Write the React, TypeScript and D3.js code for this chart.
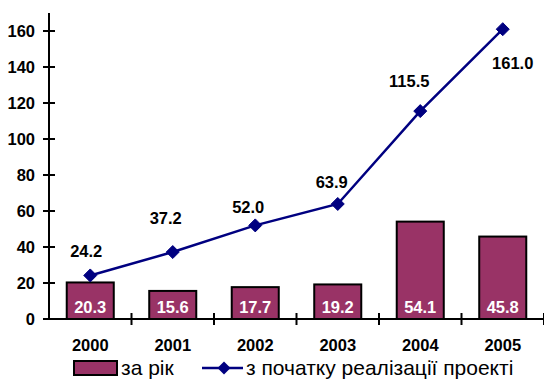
import React from 'react';
import * as d3 from 'd3';

const years = ['2000', '2001', '2002', '2003', '2004', '2005'];
const perYear = [20.3, 15.6, 17.7, 19.2, 54.1, 45.8];
const cumulative = [24.2, 37.2, 52.0, 63.9, 115.5, 161.0];
const yTicks = [0, 20, 40, 60, 80, 100, 120, 140, 160];
const legendBar = 'за рік';
const legendLine = 'з початку реалізації проекті';

// hand-placed data label offsets for the line (as in the original)
const lineLabelNudge: [number, number][] = [
  [-4, -24], [-7, -34], [-7, -18], [-6, -22], [-11, -30], [10, 34],
];

const W = 544;
const H = 379;
const M = { left: 49, right: 0, top: 13, bottom: 60 };
const BAR = '#993366';
const LINE = '#000080';
const FONT = 'Arial, "Liberation Sans", sans-serif';

const diamond = (cx: number, cy: number, r: number) =>
  `M${cx},${cy - r}L${cx + r},${cy}L${cx},${cy + r}L${cx - r},${cy}Z`;

const App: React.FC = () => {
  const x = d3.scaleBand<string>().domain(years).range([M.left, W - M.right]);
  const y = d3.scaleLinear().domain([0, 170]).range([H - M.bottom, M.top]);
  const y0 = y(0);
  const bw = x.bandwidth() * 0.57;
  const cx = (d: string) => (x(d) ?? 0) + x.bandwidth() / 2;

  const line = d3.line<number>()
    .x((_, i) => cx(years[i]))
    .y(d => y(d));

  return (
    <svg width={W} height={H} style={{ position: 'absolute', left: 0, top: 0, background: '#fff' }}
      fontFamily={FONT}>
      {/* bars */}
      {perYear.map((v, i) => (
        <rect key={years[i]} x={cx(years[i]) - bw / 2} y={y(v)} width={bw} height={y0 - y(v)}
          fill={BAR} stroke="#000" strokeWidth={2} />
      ))}
      {perYear.map((v, i) => (
        <text key={'bl' + i} x={cx(years[i])} y={y0 - 6} textAnchor="middle" fill="#fff"
          fontWeight="bold" fontSize={16.5}>{v.toFixed(1)}</text>
      ))}

      {/* y axis */}
      <line x1={M.left} x2={M.left} y1={M.top} y2={y0} stroke="#000" strokeWidth={2} />
      {yTicks.map(t => (
        <g key={t}>
          <line x1={M.left - 6} x2={M.left + 6} y1={y(t)} y2={y(t)} stroke="#000" strokeWidth={2} />
          <text x={35} y={y(t)} dy="0.36em" textAnchor="end" fontWeight="bold" fontSize={16.5}>{t}</text>
        </g>
      ))}

      {/* x axis */}
      <line x1={M.left} x2={W} y1={y0} y2={y0} stroke="#000" strokeWidth={2} />
      {years.map(d => (
        <line key={'xt' + d} x1={(x(d) ?? 0) + x.bandwidth()} x2={(x(d) ?? 0) + x.bandwidth()}
          y1={y0 - 6} y2={y0 + 6} stroke="#000" strokeWidth={2} />
      ))}
      {years.map(d => (
        <text key={'xl' + d} x={cx(d)} y={351} textAnchor="middle" fontWeight="bold" fontSize={16.5}>{d}</text>
      ))}

      {/* line */}
      <path d={line(cumulative) ?? ''} fill="none" stroke={LINE} strokeWidth={2.5} />
      {cumulative.map((v, i) => (
        <path key={'m' + i} d={diamond(cx(years[i]), y(v), 6.5)} fill={LINE} stroke={LINE} />
      ))}
      {cumulative.map((v, i) => (
        <text key={'ll' + i} x={cx(years[i]) + lineLabelNudge[i][0]} y={y(v) + lineLabelNudge[i][1]}
          dy="0.36em" textAnchor="middle" fontWeight="bold" fontSize={16.5}>{v.toFixed(1)}</text>
      ))}

      {/* legend */}
      <rect x={74} y={361} width={43} height={14} fill={BAR} stroke="#000" strokeWidth={2} />
      <text x={121} y={375} fontSize={21}>{legendBar}</text>
      <line x1={202} x2={243} y1={368} y2={368} stroke={LINE} strokeWidth={2.5} />
      <path d={diamond(224, 368, 6.5)} fill={LINE} />
      <text x={246} y={375} fontSize={21}>{legendLine}</text>
    </svg>
  );
};

export default App;
